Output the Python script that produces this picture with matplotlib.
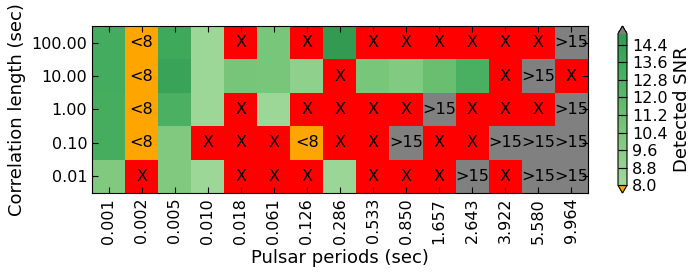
import numpy as np
import matplotlib
matplotlib.use('Agg')
import matplotlib.pyplot as plt
from matplotlib.colors import ListedColormap

# Axis categories
periods = ['0.001', '0.002', '0.005', '0.010', '0.018', '0.061', '0.126', '0.286',
           '0.533', '0.850', '1.657', '2.643', '3.922', '5.580', '9.964']
corr_lengths = ['100.00', '10.00', '1.00', '0.10', '0.01']

# Detected SNR per cell (top row first); 'X' = no detection, '<8' / '>15' = out of range
row_100 = [13.3, '<8', 13.6, 8.2, 'X', 10.4, 'X', 14.8, 'X', 'X', 'X', 'X', 'X', 'X', '>15']
row_10 = [13.3, '<8', 14.1, 8.2, 10.5, 10.4, 9.1, 'X', 10.4, 9.9, 11.3, 13.0, 'X', '>15', 'X']
row_1 = [13.2, '<8', 12.9, 8.2, 'X', 8.2, 'X', 'X', 'X', 'X', '>15', 'X', 'X', 'X', '>15']
row_01 = [13.2, '<8', 10.0, 'X', 'X', 'X', '<8', 'X', 'X', '>15', 'X', 'X', '>15', '>15', '>15']
row_001 = [10.0, 'X', 10.0, 8.2, 'X', 'X', 'X', 8.3, 'X', 'X', 'X', '>15', 'X', '>15', '>15']
rows = [row_100, row_10, row_1, row_01, row_001]

vmin, vmax = 8.0, 14.9

# Convert to numeric grid
grid = np.zeros((len(rows), len(periods)))
for i, r in enumerate(rows):
    for j, v in enumerate(r):
        if v == 'X':
            grid[i, j] = np.nan
        elif v == '<8':
            grid[i, j] = vmin - 1
        elif v == '>15':
            grid[i, j] = vmax + 1
        else:
            grid[i, j] = v

cmap = ListedColormap(plt.cm.Greens(np.linspace(0.375, 0.69, 256)))
cmap.set_bad('red')
cmap.set_under('orange')
cmap.set_over('gray')

fig = plt.figure(figsize=(6.94, 2.73), dpi=100)
ax = fig.add_axes([92 / 694, 80 / 273, 496 / 694, 167 / 273])
im = ax.imshow(np.ma.masked_invalid(grid), cmap=cmap, vmin=vmin, vmax=vmax,
               aspect='auto', interpolation='nearest')

# Cell labels
for i, r in enumerate(rows):
    for j, v in enumerate(r):
        if isinstance(v, str):
            ax.text(j, i, v, ha='center', va='center', fontsize=11.5)

ax.set_xticks(range(len(periods)))
ax.set_xticklabels(periods, rotation=90)
ax.set_yticks(range(len(corr_lengths)))
ax.set_yticklabels(corr_lengths)
ax.tick_params(direction='in', top=True, right=True, labelsize=11.5, length=4)
ax.set_xlabel('Pulsar periods (sec)', fontsize=13)
ax.set_ylabel('Correlation length (sec)', fontsize=13)

cax = fig.add_axes([618 / 694, 80 / 273, 9 / 694, 167 / 273])
cb = fig.colorbar(im, cax=cax, extend='both', ticks=np.arange(8.0, 14.5, 0.8))
cb.ax.set_yticklabels(['%.1f' % t for t in np.arange(8.0, 14.5, 0.8)])
cb.ax.tick_params(direction='in', labelsize=11.5, length=4, left=True)
cb.set_label('Detected SNR', fontsize=13)

plt.savefig('out.png', dpi=100)
